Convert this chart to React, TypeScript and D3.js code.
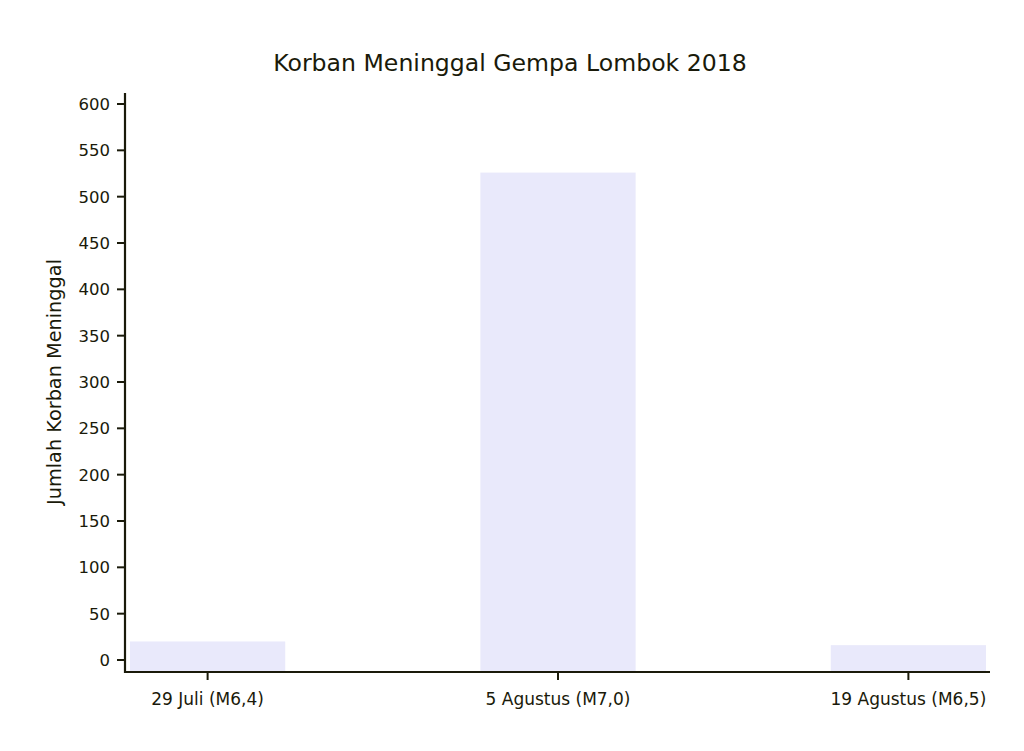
import {useEffect} from "react";
import * as d3 from "d3";

// data
const categories = ["29 Juli (M6,4)", "5 Agustus (M7,0)", "19 Agustus (M6,5)"];
const deaths = [20, 526, 16];
const yTicks = [0, 50, 100, 150, 200, 250, 300, 350, 400, 450, 500, 550, 600];

const W = 1024;
const H = 751;
const FONT = "'DejaVu Sans', sans-serif";
const INK = "#1a1a0a";

const App = () => {
    useEffect(() => {
        document.body.style.margin = "0";
    }, []);

    const x = d3.scaleBand().domain(categories).range([130, 986]).paddingInner(0.557).paddingOuter(0);
    const y = d3.scaleLinear().domain([0, 600]).range([660, 104]);

    const axisX = 125; // y spine position
    const axisY = 672; // x spine position
    const barBase = 671;

    return (
        <svg width={W} height={H} style={{display: "block", fontFamily: FONT}}>
            <rect width={W} height={H} fill="#ffffff"/>
            <text x={510} y={71} textAnchor="middle" fontSize={23.6} fill={INK}>
                Korban Meninggal Gempa Lombok 2018
            </text>

            {categories.map((c, i) => (
                <rect key={c} x={x(c)} y={y(deaths[i])} width={x.bandwidth()}
                      height={barBase - y(deaths[i])} fill="#e9e9fb"/>
            ))}

            {/* y axis */}
            <line x1={axisX} x2={axisX} y1={93} y2={axisY + 1} stroke={INK} strokeWidth={2.2}/>
            {yTicks.map((t) => (
                <g key={t} transform={`translate(0,${y(t)})`}>
                    <line x1={axisX - 8} x2={axisX} stroke={INK} strokeWidth={2}/>
                    <text x={axisX - 15} dy="0.36em" textAnchor="end" fontSize={16.5} fill={INK}>{t}</text>
                </g>
            ))}
            <text transform={`translate(61,382) rotate(-90)`} textAnchor="middle" fontSize={19.3} fill={INK}>
                Jumlah Korban Meninggal
            </text>

            {/* x axis */}
            <line x1={axisX - 1} x2={990} y1={axisY} y2={axisY} stroke={INK} strokeWidth={2.2}/>
            {categories.map((c) => {
                const cx = (x(c) as number) + x.bandwidth() / 2;
                return (
                    <g key={c} transform={`translate(${cx},${axisY})`}>
                        <line y1={0} y2={8} stroke={INK} strokeWidth={2}/>
                        <text y={33} textAnchor="middle" fontSize={17} fill={INK}>{c}</text>
                    </g>
                );
            })}
        </svg>
    );
};

export default App;
